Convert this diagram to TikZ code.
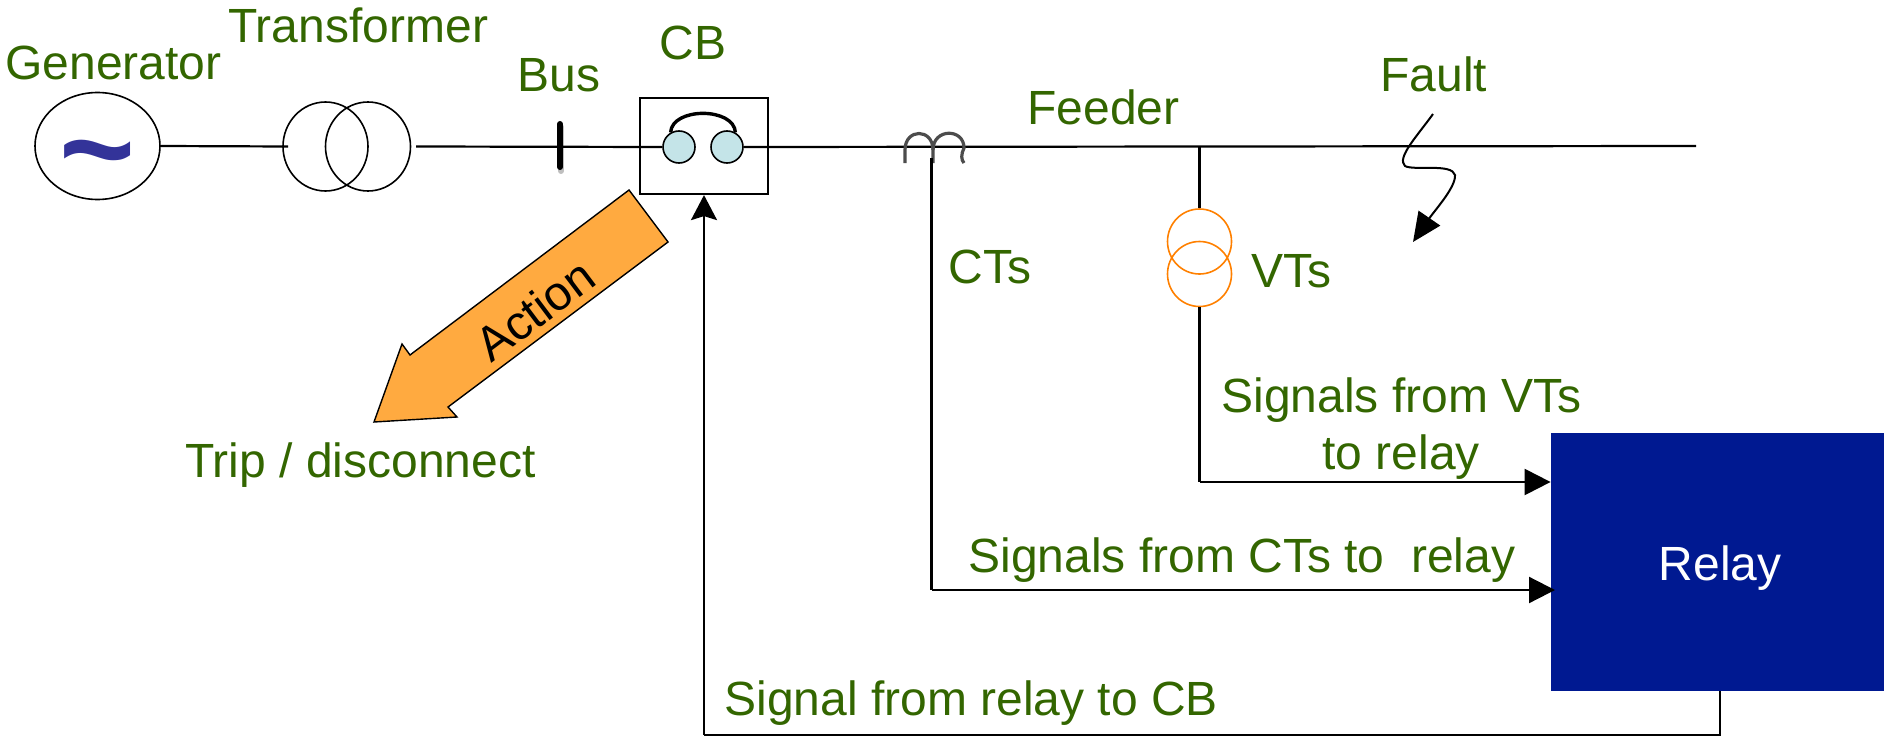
\documentclass[tikz,border=0pt]{standalone}
\usepackage{fontspec}
\setmainfont{Liberation Sans}
\usetikzlibrary{arrows.meta,shapes.geometric}

\definecolor{labelcolor}{RGB}{51,102,0}
\definecolor{breakercolor}{RGB}{196,228,232}
\definecolor{vtcolor}{RGB}{255,128,0}
\definecolor{relaycolor}{RGB}{0,25,145}
\definecolor{actioncolor}{RGB}{255,170,64}
\definecolor{tildecolor}{RGB}{51,51,153}

\tikzset{
    wire/.style={line width=1.1pt,black},
    sigarrow/.style={line width=1.1pt,black,-{Stealth[length=13pt,width=13pt,inset=0pt]}},
    cbarrow/.style={line width=1.1pt,black,-{Stealth[length=12.5pt,width=13pt,inset=2pt]}},
    winding/.style={draw,ellipse,inner sep=0pt,line width=0.8pt},
    coil/.style={line width=1.6pt,black!70},
    labeltext/.style={text=labelcolor,font=\fontsize{24}{27}\selectfont,anchor=base west,inner sep=0pt},
}

\begin{document}
\begin{tikzpicture}[x=0.5pt,y=-0.5pt]
    \useasboundingbox (0,0) rectangle (1884,738);

    % Draw the generator and the transformer
    \node[winding,minimum width=62.5pt,minimum height=53.5pt] (gen) at (97.5,146) {};
    \node[text=tildecolor,inner sep=0pt,font=\fontsize{65}{65}\bfseries\selectfont] (tilde) at (97,167) {\textasciitilde};
    \node[winding,minimum width=42.5pt,minimum height=44.5pt] (tfa) at (325.5,146.5) {};
    \node[winding,minimum width=42.5pt,minimum height=44.5pt] (tfb) at (368,146.5) {};
    \coordinate (tfin) at (288,146.5);
    \coordinate (tfout) at (416,146.5);
    \draw[wire] (gen.east) -- (tfin);

    % Draw the bus
    \coordinate (bustop) at (560,124);
    \coordinate (busbot) at (560,167);
    \draw[line width=3pt,black!25,line cap=round] (561,127) -- (561,171);
    \draw[line width=3pt,line cap=round] (bustop) -- (busbot);

    % Draw the breaker
    \node[draw,line width=1.1pt,minimum width=64pt,minimum height=48pt,inner sep=0pt] (cb) at (704,146) {};
    \node[winding,fill=breakercolor,minimum width=16pt,minimum height=16pt] (cbl) at (679,147) {};
    \node[winding,fill=breakercolor,minimum width=16pt,minimum height=16pt] (cbr) at (727,147) {};
    \draw[line width=1.7pt] (cbl.120) .. controls (672,107) and (734,107) .. (cbr.60);
    \draw[wire] (tfout) -- (cbl.west);

    % Draw the feeder
    \coordinate (feedend) at (1696,146);
    \draw[wire] (cbr.east) -- (feedend);

    % Draw the CT coils
    \coordinate (ct) at (931.5,158);
    \draw[coil] (905,163) -- (905,150) .. controls (905,128) and (933,128) .. (933,150) -- (933,163);
    \draw[coil] (933,150) .. controls (933,128) and (964,128) .. (964,148) .. controls (961,154) and (961,160) .. (964,163);

    % Draw the VT
    \coordinate (vttap) at (1199.5,146);
    \node[winding,draw=vtcolor,minimum width=32pt,minimum height=32.5pt] (vta) at (1199.5,241.5) {};
    \node[winding,draw=vtcolor,minimum width=32pt,minimum height=32.5pt] (vtb) at (1199.5,274) {};
    \draw[wire] (vttap) -- (vta.north);

    % Draw the relay
    \node[fill=relaycolor,minimum width=166.5pt,minimum height=129pt,inner sep=0pt] (relay) at (1717.5,561.5) {};
    \node[text=white,inner sep=0pt,font=\fontsize{24}{27}\selectfont] (relaylabel) at (1720,568) {Relay};

    % Signals going to and from the relay
    \coordinate (vtin) at (1199.5,482);
    \coordinate (ctin) at (931.5,590);
    \coordinate (ctend) at (1555,590);
    \coordinate (relayout) at (1720,735);
    \coordinate (cbin) at (704,735);
    \draw[wire] (vtb.south) -- (vtin);
    \draw[sigarrow] (vtin) -- (vtin -| relay.west);
    \draw[wire] (ct) -- (ctin);
    \draw[sigarrow] (ctin) -- (ctend);
    \draw[wire] (relay.south -| relayout) -- (relayout) -- (cbin);
    \draw[cbarrow] (cbin) -- (cb.south -| cbin);

    % Fault arrow
    \coordinate (faultstart) at (1433,114);
    \coordinate (faultend) at (1413,242);
    \draw[line width=1pt,-{Stealth[length=14.5pt,width=13pt,inset=0pt]}] (faultstart) .. controls (1418,135) and (1396,158) .. (1405,166)
        .. controls (1414,171) and (1452,163) .. (1455,175) .. controls (1456,187) and (1435,210) .. (faultend);

    % Action arrow
    \draw[fill=actioncolor,line width=0.7pt] (629,190) -- (668,242) -- (448,407) -- (457,417) -- (374,422) -- (402,344) -- (410,355) -- cycle;
    \node[rotate=36.9,inner sep=0pt,font=\fontsize{24}{27}\selectfont] (action) at (535,310) {Action};

    % Add the labels
    \node[labeltext] (genlabel) at (5,80) {Generator};
    \node[labeltext] (tflabel) at (228,43) {Transformer};
    \node[labeltext] (buslabel) at (517,92) {Bus};
    \node[labeltext] (cblabel) at (659,60) {CB};
    \node[labeltext] (feederlabel) at (1027,125) {Feeder};
    \node[labeltext] (faultlabel) at (1380,92) {Fault};
    \node[labeltext] (ctlabel) at (948,283) {CTs};
    \node[labeltext] (vtlabel) at (1251,287) {VTs};
    \node[labeltext] (vtsiga) at (1221,412) {Signals from VTs};
    \node[labeltext] (vtsigb) at (1322,469) {to relay};
    \node[labeltext] (ctsig) at (968,572) {Signals from CTs to\ \ relay};
    \node[labeltext] (cbsig) at (724,715) {Signal from relay to CB};
    \node[labeltext] (triplabel) at (185,477) {Trip / disconnect};
\end{tikzpicture}
\end{document}
